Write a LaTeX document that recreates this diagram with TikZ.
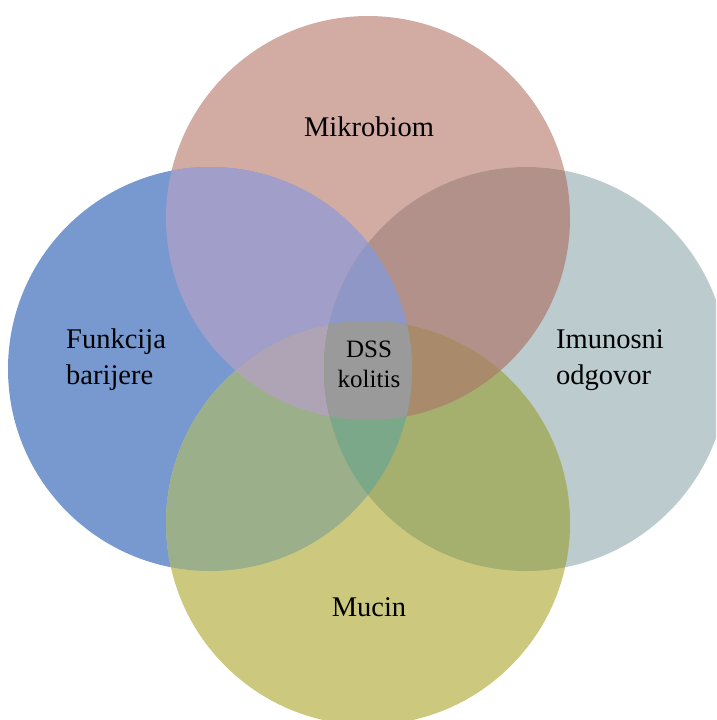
\documentclass[tikz,border=0pt]{standalone}
\usepackage{fontspec}
\setmainfont{Liberation Serif}
\definecolor{cT}{RGB}{210,171,163}
\definecolor{cL}{RGB}{119,153,207}
\definecolor{cR}{RGB}{187,203,206}
\definecolor{cB}{RGB}{204,201,127}
\definecolor{cTL}{RGB}{162,158,202}
\definecolor{cTR}{RGB}{177,145,138}
\definecolor{cLB}{RGB}{155,176,138}
\definecolor{cRB}{RGB}{165,175,110}
\definecolor{cTLR}{RGB}{143,151,198}
\definecolor{cTLB}{RGB}{174,164,181}
\definecolor{cTRB}{RGB}{169,138,107}
\definecolor{cLRB}{RGB}{123,168,137}
\definecolor{cAll}{RGB}{154,154,154}
\def\pT{(368,218) circle[radius=202pt]}
\def\pL{(210,369) circle[radius=202pt]}
\def\pR{(526,369) circle[radius=202pt]}
\def\pB{(368,523) circle[radius=202pt]}
\tikzset{
  big/.style={font=\fontsize{28.5}{36}\selectfont, inner sep=0pt},
  small/.style={font=\fontsize{25}{30}\selectfont, inner sep=0pt, align=center}
}
\begin{document}
\begin{tikzpicture}[x=1pt,y=-1pt]
\useasboundingbox (0,0) rectangle (716,720);
\begin{scope}
\clip (0,0) rectangle (716,720);
% single circles
\fill[cT] \pT;
\fill[cL] \pL;
\fill[cR] \pR;
\fill[cB] \pB;
% pairs
\begin{scope}\clip \pT; \fill[cAll] \pB;\end{scope}
\begin{scope}\clip \pL; \fill[cAll] \pR;\end{scope}
\begin{scope}\clip \pT; \fill[cTL] \pL;\end{scope}
\begin{scope}\clip \pT; \fill[cTR] \pR;\end{scope}
\begin{scope}\clip \pL; \fill[cLB] \pB;\end{scope}
\begin{scope}\clip \pR; \fill[cRB] \pB;\end{scope}
% triples
\begin{scope}\clip \pT; \clip \pL; \fill[cTLR] \pR;\end{scope}
\begin{scope}\clip \pT; \clip \pL; \fill[cTLB] \pB;\end{scope}
\begin{scope}\clip \pT; \clip \pR; \fill[cTRB] \pB;\end{scope}
\begin{scope}\clip \pL; \clip \pR; \fill[cLRB] \pB;\end{scope}
% all four
\begin{scope}\clip \pT; \clip \pL; \clip \pR; \fill[cAll] \pB;\end{scope}
\end{scope}
% labels
\node[big] (mik) at (369,127) {Mikrobiom};
\node[big, anchor=west, align=left] (fun) at (66,360) {Funkcija\\barijere};
\node[big, anchor=west, align=left] (imu) at (556,360) {Imunosni\\odgovor};
\node[big] (muc) at (369,607) {Mucin};
\node[small] (dss) at (369,364) {DSS\\kolitis};
\end{tikzpicture}
\end{document}
